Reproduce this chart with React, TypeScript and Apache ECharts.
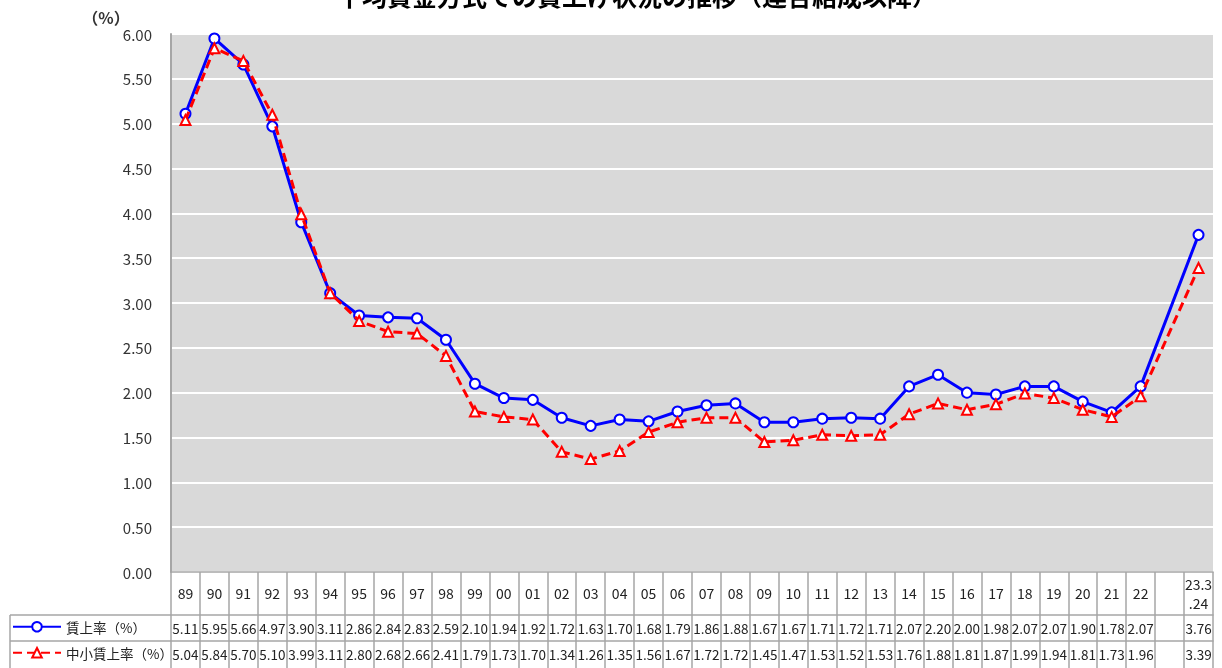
import React, { useEffect, useRef } from "react";
import * as echarts from "echarts";

const categories: string[] = [
  "89", "90", "91", "92", "93", "94", "95", "96", "97", "98", "99", "00",
  "01", "02", "03", "04", "05", "06", "07", "08", "09", "10", "11", "12",
  "13", "14", "15", "16", "17", "18", "19", "20", "21", "22", "", "23.3.24",
];

const wageRise: (number | null)[] = [
  5.11, 5.95, 5.66, 4.97, 3.90, 3.11, 2.86, 2.84, 2.83, 2.59, 2.10, 1.94,
  1.92, 1.72, 1.63, 1.70, 1.68, 1.79, 1.86, 1.88, 1.67, 1.67, 1.71, 1.72,
  1.71, 2.07, 2.20, 2.00, 1.98, 2.07, 2.07, 1.90, 1.78, 2.07, null, 3.76,
];

const smeWageRise: (number | null)[] = [
  5.04, 5.84, 5.70, 5.10, 3.99, 3.11, 2.80, 2.68, 2.66, 2.41, 1.79, 1.73,
  1.70, 1.34, 1.26, 1.35, 1.56, 1.67, 1.72, 1.72, 1.45, 1.47, 1.53, 1.52,
  1.53, 1.76, 1.88, 1.81, 1.87, 1.99, 1.94, 1.81, 1.73, 1.96, null, 3.39,
];

const seriesNames = ["賃上率（%）", "中小賃上率（%）"];
const titleText = "平均賃金方式での賃上げ状況の推移（連合結成以降）";

const FONT = "'Noto Sans CJK JP', 'Noto Sans', sans-serif";
const BORDER = "#A6A6A6";

export default function App() {
  const ref = useRef<HTMLDivElement>(null);

  useEffect(() => {
    if (!ref.current) return;
    const chart = echarts.init(ref.current, null, { renderer: "svg" });

    const fmt = (arr: (number | null)[]) => (_v: string, i: number) =>
      arr[i] == null ? "" : (arr[i] as number).toFixed(2);

    const tableAxis = (offset: number, tickLen: number, margin: number, fontSize: number, formatter: any) => ({
      type: "category",
      data: categories,
      gridIndex: 0,
      position: "bottom",
      offset,
      boundaryGap: true,
      axisLine: { show: true, lineStyle: { color: BORDER, width: 1.5 } },
      axisTick: { show: true, interval: 0, length: tickLen, lineStyle: { color: BORDER, width: 1.5 } },
      axisLabel: {
        interval: 0,
        margin,
        verticalAlign: "middle",
        color: "#222",
        fontSize,
        fontFamily: FONT,
        lineHeight: 19,
        formatter,
      },
      splitLine: { show: false },
    });

    const legendItem = (name: string, top: number) => ({
      orient: "horizontal",
      left: 12,
      top,
      padding: 0,
      itemWidth: 48,
      itemHeight: 12,
      textStyle: { color: "#222", fontSize: 13.5, fontFamily: FONT },
      data: [name],
    });

    chart.setOption({
      animation: false,
      textStyle: { fontFamily: FONT },
      grid: {
        left: 171,
        right: 9,
        top: 34,
        bottom: 96,
        show: true,
        backgroundColor: "#D9D9D9",
        borderWidth: 0,
      },
      legend: [legendItem(seriesNames[0], 620), legendItem(seriesNames[1], 646)],
      xAxis: [
        tableAxis(0, 43, 21, 14, (v: string) => (v === "23.3.24" ? "23.3\n.24" : v)),
        tableAxis(43, 26, 13, 13.5, fmt(wageRise)),
        tableAxis(69, 27, 13, 13.5, fmt(smeWageRise)),
      ],
      yAxis: {
        type: "value",
        min: 0,
        max: 6,
        interval: 0.5,
        axisLine: { show: true, lineStyle: { color: BORDER, width: 2 } },
        axisTick: { show: false },
        axisLabel: {
          margin: 19,
          color: "#333",
          fontSize: 15,
          fontFamily: FONT,
          formatter: (v: number) => v.toFixed(2),
        },
        splitLine: { show: true, lineStyle: { color: "#FFFFFF", width: 2 } },
      },
      series: [
        {
          name: seriesNames[0],
          type: "line",
          xAxisIndex: 0,
          data: wageRise,
          connectNulls: true,
          symbol: "circle",
          symbolSize: 10,
          itemStyle: { color: "#FFFFFF", borderColor: "#0000FF", borderWidth: 2 },
          lineStyle: { color: "#0000FF", width: 3 },
          z: 3,
        },
        {
          name: seriesNames[1],
          type: "line",
          xAxisIndex: 0,
          data: smeWageRise,
          connectNulls: true,
          symbol: "triangle",
          symbolSize: 10,
          itemStyle: { color: "#FFFFFF", borderColor: "#FF0000", borderWidth: 2 },
          lineStyle: { color: "#FF0000", width: 3, type: [9, 5] },
          z: 4,
        },
      ],
      graphic: [
        {
          type: "text",
          x: 637,
          y: -18,
          style: {
            text: titleText,
            fontSize: 25,
            fontWeight: "bold",
            fill: "#000",
            fontFamily: FONT,
            textAlign: "center",
            textVerticalAlign: "top",
          },
        },
        {
          type: "text",
          x: 106,
          y: 17,
          style: {
            text: "（%）",
            fontSize: 16,
            fontWeight: "bold",
            fill: "#333",
            fontFamily: FONT,
            textAlign: "center",
            textVerticalAlign: "middle",
          },
        },
        { type: "line", shape: { x1: 10, y1: 615, x2: 171, y2: 615 }, style: { stroke: BORDER, lineWidth: 1.5 } },
        { type: "line", shape: { x1: 10, y1: 641, x2: 171, y2: 641 }, style: { stroke: BORDER, lineWidth: 1.5 } },
        { type: "line", shape: { x1: 10, y1: 615, x2: 10, y2: 668 }, style: { stroke: BORDER, lineWidth: 1.5 } },
      ],
    });

    return () => chart.dispose();
  }, []);

  return (
    <div
      ref={ref}
      style={{ position: "fixed", left: 0, top: 0, width: 1222, height: 668 }}
    />
  );
}
